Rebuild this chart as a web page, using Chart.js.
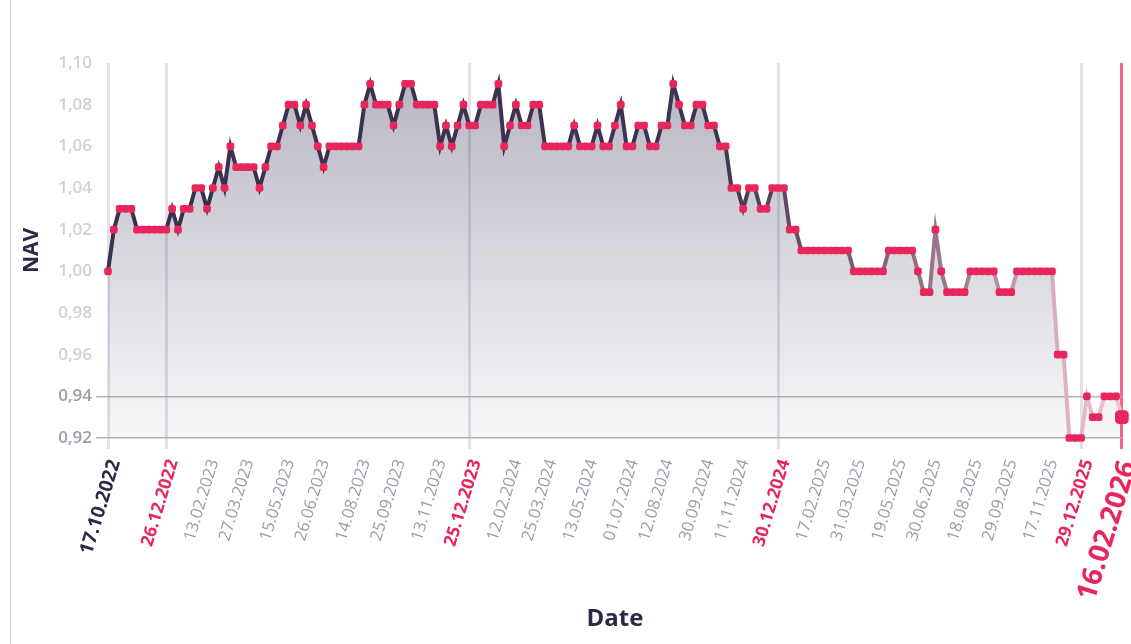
<!DOCTYPE html>
<html>
<head>
<meta charset="utf-8">
<script src="https://cdn.jsdelivr.net/npm/chart.js"></script>
<style>
  html, body { margin: 0; padding: 0; background: #fff; overflow: hidden; }
  #wrap { position: relative; width: 1162px; height: 644px; }
  #edge { position: absolute; left: 10px; top: 0; width: 1px; height: 644px; background: #cfcfd4; }
</style>
</head>
<body>
<div id="wrap"><div id="edge"></div><canvas id="navChart"></canvas></div>
<script>
// weekly NAV, Mondays from 17.10.2022 to 16.02.2026
var startDate = Date.UTC(2022, 9, 17);
var weekCount = 175;

var navValues = [
  1.00, 1.02, 1.03, 1.03, 1.03, 1.02, 1.02, 1.02, 1.02, 1.02,
  1.02, 1.03, 1.02, 1.03, 1.03, 1.04, 1.04, 1.03, 1.04, 1.05,
  1.04, 1.06, 1.05, 1.05, 1.05, 1.05, 1.04, 1.05, 1.06, 1.06,
  1.07, 1.08, 1.08, 1.07, 1.08, 1.07, 1.06, 1.05, 1.06, 1.06,
  1.06, 1.06, 1.06, 1.06, 1.08, 1.09, 1.08, 1.08, 1.08, 1.07,
  1.08, 1.09, 1.09, 1.08, 1.08, 1.08, 1.08, 1.06, 1.07, 1.06,
  1.07, 1.08, 1.07, 1.07, 1.08, 1.08, 1.08, 1.09, 1.06, 1.07,
  1.08, 1.07, 1.07, 1.08, 1.08, 1.06, 1.06, 1.06, 1.06, 1.06,
  1.07, 1.06, 1.06, 1.06, 1.07, 1.06, 1.06, 1.07, 1.08, 1.06,
  1.06, 1.07, 1.07, 1.06, 1.06, 1.07, 1.07, 1.09, 1.08, 1.07,
  1.07, 1.08, 1.08, 1.07, 1.07, 1.06, 1.06, 1.04, 1.04, 1.03,
  1.04, 1.04, 1.03, 1.03, 1.04, 1.04, 1.04, 1.02, 1.02, 1.01,
  1.01, 1.01, 1.01, 1.01, 1.01, 1.01, 1.01, 1.01, 1.00, 1.00,
  1.00, 1.00, 1.00, 1.00, 1.01, 1.01, 1.01, 1.01, 1.01, 1.00,
  0.99, 0.99, 1.02, 1.00, 0.99, 0.99, 0.99, 0.99, 1.00, 1.00,
  1.00, 1.00, 1.00, 0.99, 0.99, 0.99, 1.00, 1.00, 1.00, 1.00,
  1.00, 1.00, 1.00, 0.96, 0.96, 0.92, 0.92, 0.92, 0.94, 0.93,
  0.93, 0.94, 0.94, 0.94, 0.93
];

// labels printed under the axis
var shownTicks = [
  '17.10.2022', '26.12.2022', '13.02.2023', '27.03.2023', '15.05.2023', '26.06.2023',
  '14.08.2023', '25.09.2023', '13.11.2023', '25.12.2023', '12.02.2024', '25.03.2024',
  '13.05.2024', '01.07.2024', '12.08.2024', '30.09.2024', '11.11.2024', '30.12.2024',
  '17.02.2025', '31.03.2025', '19.05.2025', '30.06.2025', '18.08.2025', '29.09.2025',
  '17.11.2025', '29.12.2025', '16.02.2026'
];
var yearEnds = ['26.12.2022', '25.12.2023', '30.12.2024', '29.12.2025'];

var yTicks = [0.92, 0.94, 0.96, 0.98, 1.00, 1.02, 1.04, 1.06, 1.08, 1.10];
var yMarked = [0.92, 0.94];

function pad(n) { return n < 10 ? '0' + n : '' + n; }
var dates = [];
for (var i = 0; i < weekCount; i++) {
  var d = new Date(startDate + i * 7 * 86400000);
  dates.push(pad(d.getUTCDate()) + '.' + pad(d.getUTCMonth() + 1) + '.' + d.getUTCFullYear());
}
var lastIdx = dates.length - 1;

var RED = '#e8265c';
var NAVY = '#2b2946';

function isMarked(v) {
  for (var k = 0; k < yMarked.length; k++) {
    if (Math.abs(v - yMarked[k]) < 1e-6) return true;
  }
  return false;
}

function lineColor(ctx) {
  var area = ctx.chart.chartArea;
  if (!area) return '#3b3050';
  var g = ctx.chart.ctx.createLinearGradient(area.left, 0, area.right, 0);
  g.addColorStop(0, '#3a2f4e');
  g.addColorStop(0.6, '#3e3351');
  g.addColorStop(0.7, '#6c546d');
  g.addColorStop(0.84, '#a07b91');
  g.addColorStop(0.94, '#ddb0bf');
  g.addColorStop(1, '#f0c4d0');
  return g;
}

function fillColor(ctx) {
  var area = ctx.chart.chartArea;
  if (!area) return 'rgba(60,55,90,0.2)';
  var g = ctx.chart.ctx.createLinearGradient(0, area.top, 0, area.bottom);
  g.addColorStop(0, 'rgba(58,52,88,0.38)');
  g.addColorStop(0.5, 'rgba(58,52,88,0.2)');
  g.addColorStop(1, 'rgba(58,52,88,0.04)');
  return g;
}

Chart.defaults.font.family = "'Open Sans', sans-serif";

new Chart(document.getElementById('navChart'), {
  type: 'line',
  data: {
    labels: dates,
    datasets: [{
      label: 'NAV',
      data: navValues,
      borderColor: lineColor,
      backgroundColor: fillColor,
      borderWidth: 4,
      borderJoinStyle: 'miter',
      tension: 0,
      fill: 'start',
      clip: 10,
      pointStyle: 'rectRounded',
      pointRadius: function (c) { return c.dataIndex === lastIdx ? 8 : 4.5; },
      pointBackgroundColor: RED,
      pointBorderColor: RED,
      pointBorderWidth: 0
    }]
  },
  options: {
    responsive: true,
    maintainAspectRatio: false,
    animation: false,
    layout: { padding: { top: 63, left: 10, right: 30, bottom: 0 } },
    plugins: { legend: { display: false }, tooltip: { enabled: false } },
    scales: {
      x: {
        afterFit: function (s) { s.height = 206; },
        border: { display: false },
        grid: {
          lineWidth: 3,
          tickLength: 11,
          color: function (c) {
            var lab = dates[c.index];
            if (c.index === lastIdx) return 'rgba(236,78,118,0.85)';
            if (c.index === 0 || yearEnds.indexOf(lab) >= 0) return '#e2e1e8';
            return 'rgba(0,0,0,0)';
          }
        },
        ticks: {
          autoSkip: false,
          minRotation: 73,
          maxRotation: 73,
          padding: 8,
          labelOffset: 7,
          callback: function (v, idx) {
            var lab = dates[idx];
            return shownTicks.indexOf(lab) >= 0 ? lab : '';
          },
          color: function (c) {
            var lab = dates[c.index];
            if (c.index === 0) return NAVY;
            if (c.index === lastIdx || yearEnds.indexOf(lab) >= 0) return RED;
            return '#9b9aa8';
          },
          font: function (c) {
            var lab = dates[c.index];
            if (c.index === 0) return { size: 19, weight: 'bold' };
            if (c.index === lastIdx) return { size: 28, weight: 'bold' };
            if (yearEnds.indexOf(lab) >= 0) return { size: 17.5, weight: 'bold' };
            return { size: 16.5 };
          }
        },
        title: {
          display: true,
          text: 'Date',
          color: NAVY,
          font: { size: 24, weight: 'bold' },
          padding: { top: 0, bottom: 10 }
        }
      },
      y: {
        min: 0.92,
        max: 1.10,
        afterFit: function (s) { s.width = 98; },
        afterBuildTicks: function (s) {
          s.ticks = yTicks.map(function (v) { return { value: v }; });
        },
        border: { display: false },
        grid: {
          drawTicks: true,
          tickLength: 12,
          lineWidth: 1.5,
          color: function (c) {
            return c.tick && isMarked(c.tick.value) ? '#b3b2bf' : 'rgba(0,0,0,0)';
          }
        },
        ticks: {
          padding: 4,
          color: function (c) {
            return c.tick && isMarked(c.tick.value) ? '#9e9dab' : '#d0d0d8';
          },
          font: { size: 17, weight: '600' },
          callback: function (v) { return Number(v).toFixed(2).replace('.', ','); }
        },
        title: {
          display: true,
          text: 'NAV',
          color: NAVY,
          font: { size: 21, weight: 'bold' },
          padding: { top: 9, bottom: 0 }
        }
      }
    }
  }
});
</script>
</body>
</html>
